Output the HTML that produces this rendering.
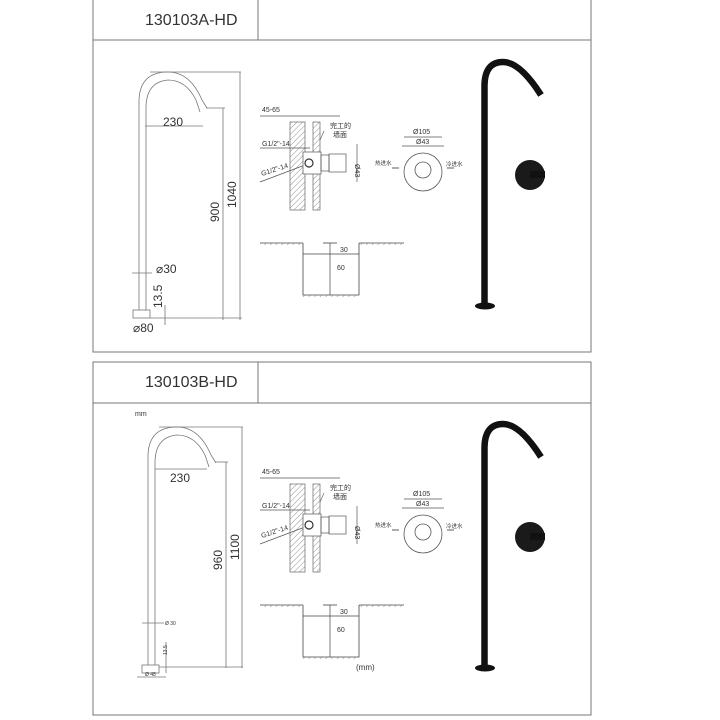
<!DOCTYPE html>
<html><head><meta charset="utf-8"><style>
body{margin:0;background:#fff}
svg{display:block}
text{font-family:"Liberation Sans","Noto Sans CJK SC",sans-serif;fill:#333}
</style></head><body>
<svg width="720" height="720" viewBox="0 0 720 720" xmlns="http://www.w3.org/2000/svg">
<defs>
<pattern id="h" width="4" height="4" patternUnits="userSpaceOnUse" patternTransform="rotate(45)">
<line x1="0" y1="0" x2="0" y2="4" stroke="#777" stroke-width="0.8"/></pattern>
<g id="mid">
  <!-- wall section -->
  <line x1="260" y1="116" x2="340" y2="116" stroke="#555" stroke-width="0.7"/>
  <text x="262" y="112" font-size="7">45-65</text>
  <rect x="290" y="122" width="15" height="88" fill="url(#h)" stroke="#666" stroke-width="0.7"/>
  <rect x="313" y="122" width="7" height="88" fill="url(#h)" stroke="#666" stroke-width="0.7"/>
  <text x="330" y="128" font-size="7">完工的</text>
  <text x="333" y="137" font-size="7">墙面</text>
  <line x1="324" y1="131" x2="320" y2="140" stroke="#555" stroke-width="0.6"/>
  <line x1="260" y1="148" x2="310" y2="148" stroke="#555" stroke-width="0.7"/>
  <text x="262" y="146" font-size="7">G1/2"-14</text>
  <text x="262" y="176" font-size="7" transform="rotate(-18 262 176)">G1/2"-14</text>
  <line x1="260" y1="182" x2="305" y2="165" stroke="#555" stroke-width="0.7"/>
  <rect x="303" y="152" width="18" height="22" fill="#fff" stroke="#555" stroke-width="0.7"/>
  <circle cx="309" cy="163" r="4" fill="none" stroke="#333" stroke-width="1.2"/>
  <rect x="321" y="155" width="8" height="16" fill="none" stroke="#555" stroke-width="0.7"/>
  <rect x="329" y="154" width="17" height="18" fill="none" stroke="#555" stroke-width="0.7"/>
  <line x1="357" y1="144" x2="357" y2="182" stroke="#555" stroke-width="0.7"/>
  <text x="355" y="164" font-size="7" transform="rotate(90 355 164)">Ø43</text>
  <!-- plate -->
  <line x1="404" y1="137" x2="442" y2="137" stroke="#555" stroke-width="0.7"/>
  <line x1="402" y1="146" x2="444" y2="146" stroke="#555" stroke-width="0.7"/>
  <text x="413" y="134" font-size="7">Ø105</text>
  <text x="416" y="144" font-size="7">Ø43</text>
  <circle cx="423" cy="172" r="19" fill="none" stroke="#555" stroke-width="0.8"/>
  <circle cx="423" cy="170" r="8" fill="none" stroke="#555" stroke-width="0.8"/>
  <text x="375" y="165" font-size="5.5">热进水</text>
  <text x="446" y="166" font-size="5.5">冷进水</text>
  <line x1="392" y1="168" x2="399" y2="168" stroke="#333" stroke-width="0.8"/>
  <line x1="447" y1="168" x2="454" y2="168" stroke="#333" stroke-width="0.8"/>
  <!-- pit -->
  <line x1="260" y1="243" x2="303" y2="243" stroke="#444" stroke-width="0.8"/>
  <line x1="359" y1="243" x2="404" y2="243" stroke="#444" stroke-width="0.8"/>
  <rect x="260" y="243" width="43" height="2" fill="url(#h)"/>
  <rect x="359" y="243" width="45" height="2" fill="url(#h)"/>
  <polyline points="303,243 303,295 359,295 359,243" fill="none" stroke="#444" stroke-width="0.8"/>
  <rect x="303" y="295" width="56" height="2" fill="url(#h)"/>
  <line x1="303" y1="254" x2="359" y2="254" stroke="#444" stroke-width="0.7"/>
  <line x1="330" y1="243" x2="330" y2="295" stroke="#444" stroke-width="0.7"/>
  <line x1="323" y1="243" x2="337" y2="243" stroke="#444" stroke-width="0.8"/>
  <text x="340" y="252" font-size="7">30</text>
  <text x="337" y="270" font-size="7">60</text>
  <!-- black faucet -->
  <path d="M484.5,305 L484.5,85 Q485,62 503,62 Q520,62 541,95" fill="none" stroke="#111" stroke-width="6.5"/>
  <ellipse cx="485" cy="306" rx="10" ry="3.5" fill="#111"/>
  <circle cx="530" cy="175" r="15" fill="#1a1a1a"/>
  <rect x="530" y="171" width="15" height="7" fill="#111"/>
</g>
</defs>

<!-- Panel A frame -->
<rect x="93" y="-1" width="498" height="353" fill="none" stroke="#777" stroke-width="1"/>
<line x1="93" y1="40" x2="591" y2="40" stroke="#777"/>
<line x1="258" y1="0" x2="258" y2="40" stroke="#777"/>
<text x="145" y="25" font-size="16">130103A-HD</text>
<!-- faucet outline A -->
<g fill="none" stroke="#777" stroke-width="0.8">
<path d="M139,310 L139,100 Q140,72 168,72 Q190,72 202,100 L207,108"/>
<path d="M146,310 L146,108 Q146,82 168,80 Q186,80 196,100 L200,112"/>
<rect x="133" y="310" width="17" height="8"/>
<line x1="150" y1="72" x2="241" y2="72"/>
<line x1="206" y1="108" x2="225" y2="108"/>
<line x1="240" y1="72" x2="240" y2="320"/>
<line x1="223" y1="108" x2="223" y2="320"/>
<line x1="150" y1="318" x2="242" y2="318"/>
<line x1="145" y1="126" x2="203" y2="126"/>
<line x1="132" y1="273" x2="152" y2="273"/>
<line x1="165" y1="305" x2="165" y2="325"/>
</g>
<text x="163" y="126" font-size="12">230</text>
<text x="236" y="208" font-size="12" transform="rotate(-90 236 208)">1040</text>
<text x="219" y="222" font-size="12" transform="rotate(-90 219 222)">900</text>
<text x="156" y="273" font-size="12">⌀30</text>
<text x="162" y="308" font-size="12" transform="rotate(-90 162 308)">13.5</text>
<text x="133" y="332" font-size="12">⌀80</text>
<use href="#mid"/>

<!-- Panel B frame -->
<rect x="93" y="362" width="498" height="353" fill="none" stroke="#777" stroke-width="1"/>
<line x1="93" y1="403" x2="591" y2="403" stroke="#777"/>
<line x1="258" y1="362" x2="258" y2="403" stroke="#777"/>
<text x="145" y="387" font-size="16">130103B-HD</text>
<text x="135" y="416" font-size="7">mm</text>
<g fill="none" stroke="#777" stroke-width="0.8">
<path d="M148,665 L148,455 Q149,427 177,427 Q199,427 211,455 L216,463"/>
<path d="M155,665 L155,463 Q155,437 177,435 Q195,435 205,455 L209,467"/>
<rect x="142" y="665" width="17" height="8"/>
<line x1="159" y1="427" x2="243" y2="427"/>
<line x1="215" y1="462" x2="228" y2="462"/>
<line x1="242" y1="427" x2="242" y2="668"/>
<line x1="226" y1="462" x2="226" y2="668"/>
<line x1="159" y1="667" x2="243" y2="667"/>
<line x1="155" y1="469" x2="207" y2="469"/>
<line x1="142" y1="623" x2="164" y2="623"/>
<line x1="166" y1="642" x2="166" y2="673"/>
<line x1="137" y1="677" x2="166" y2="677"/>
</g>
<text x="170" y="482" font-size="12">230</text>
<text x="239" y="560" font-size="12" transform="rotate(-90 239 560)">1100</text>
<text x="222" y="570" font-size="12" transform="rotate(-90 222 570)">960</text>
<text x="165" y="625" font-size="5">Ø 30</text>
<text x="167" y="655" font-size="5" transform="rotate(-90 167 655)">13.5</text>
<text x="145" y="676" font-size="5">Ø 48</text>
<text x="356" y="670" font-size="8">(mm)</text>
<use href="#mid" transform="translate(0,362)"/>
</svg>
</body></html>
